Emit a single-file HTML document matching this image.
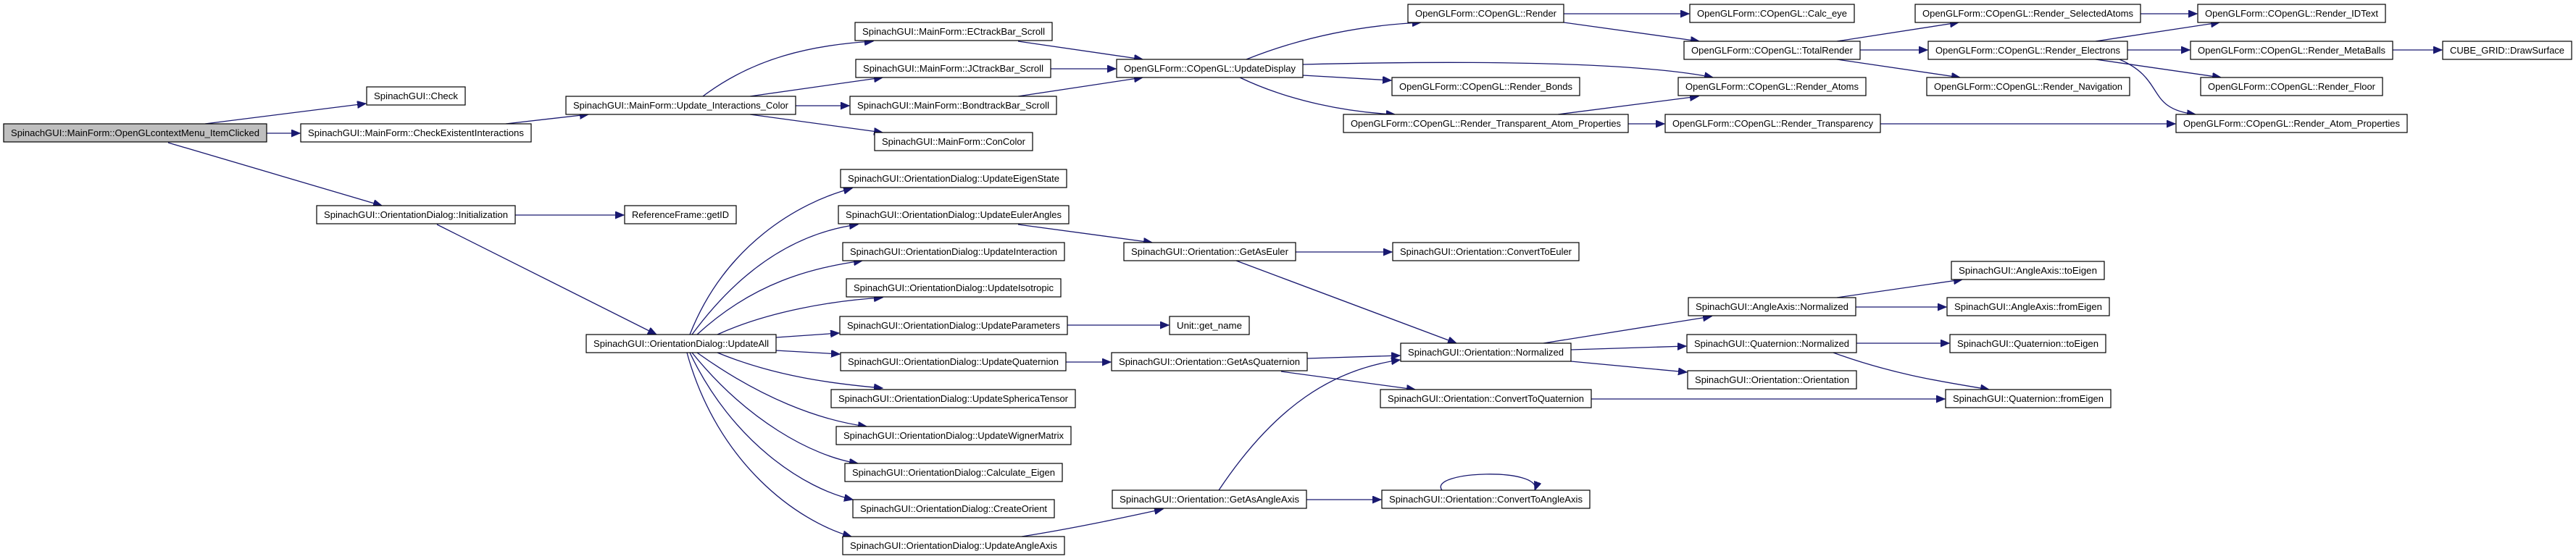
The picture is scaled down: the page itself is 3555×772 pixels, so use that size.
<!DOCTYPE html>
<html><head><meta charset="utf-8"><style>
html,body{margin:0;padding:0;background:#fff;}
svg{display:block;}
text{font-family:"Liberation Sans",sans-serif;font-size:12.5px;fill:#000;}
rect{fill:#fff;stroke:#000;stroke-width:1.2;}
path{fill:none;stroke:#191970;stroke-width:1.3;}
</style></head><body>
<svg width="3555" height="772" viewBox="0 0 3555 772" xmlns="http://www.w3.org/2000/svg">
<defs><marker id="a" markerUnits="userSpaceOnUse" markerWidth="14" markerHeight="12" refX="12" refY="5" orient="auto"><path d="M0,0 L12,5 L0,10 z" style="fill:#191970;stroke:#191970;stroke-width:1"/></marker></defs>
<g marker-end="url(#a)">
<path d="M283,171 L505,143"/>
<path d="M368,184 L414,184"/>
<path d="M232,197 L527,284"/>
<path d="M698,171 L812,158"/>
<path d="M970,133 C1040,80 1120,62 1205,57"/>
<path d="M1035,133 L1218,107"/>
<path d="M1098,146 L1172,146"/>
<path d="M1035,158 L1218,183"/>
<path d="M711,297 L861,297"/>
<path d="M603,310 L906,462"/>
<path d="M952,462 C1000,340 1100,280 1176,260"/>
<path d="M955,462 C1030,360 1110,320 1184,310"/>
<path d="M962,462 C1040,390 1120,370 1190,360"/>
<path d="M990,462 C1060,430 1150,415 1218,411"/>
<path d="M1071,466 L1158,460"/>
<path d="M1071,484 L1159,489"/>
<path d="M990,487 C1070,520 1150,530 1218,536"/>
<path d="M962,487 C1050,550 1130,580 1196,589"/>
<path d="M955,487 C1030,580 1120,630 1184,640"/>
<path d="M952,487 C1010,610 1110,675 1177,690"/>
<path d="M948,487 C990,640 1100,720 1175,741"/>
<path d="M1405,57 L1577,82"/>
<path d="M1450,95 L1540,95"/>
<path d="M1405,133 L1577,107"/>
<path d="M1720,82 C1800,50 1880,35 1961,31"/>
<path d="M1798,89 C2000,84 2250,84 2364,107"/>
<path d="M1798,104 L1920,111"/>
<path d="M1711,107 C1780,140 1860,155 1925,158"/>
<path d="M2150,158 L2344,133"/>
<path d="M2247,171 L2297,171"/>
<path d="M2595,171 L3002,171"/>
<path d="M2158,19 L2331,19"/>
<path d="M2158,31 L2345,57"/>
<path d="M2535,57 L2703,31"/>
<path d="M2567,69 L2660,69"/>
<path d="M2535,82 L2705,107"/>
<path d="M2892,57 L3063,31"/>
<path d="M2936,69 L3022,69"/>
<path d="M2892,82 L3065,107"/>
<path d="M2925,82 C2990,110 2960,150 3030,158"/>
<path d="M2954,19 L3032,19"/>
<path d="M3302,69 L3370,69"/>
<path d="M1405,310 L1590,335"/>
<path d="M1788,348 L1921,348"/>
<path d="M1706,360 L2010,474"/>
<path d="M1473,449 L1613,449"/>
<path d="M1471,500 L1533,500"/>
<path d="M1804,495 L1932,491"/>
<path d="M1768,513 L1953,538"/>
<path d="M1682,677 C1760,560 1840,510 1932,497"/>
<path d="M1410,741 C1480,730 1550,715 1605,703"/>
<path d="M1803,690 L1906,690"/>
<path d="M1990,677 C1970,650 2130,645 2118,677"/>
<path d="M2130,474 L2362,437"/>
<path d="M2168,483 L2327,478"/>
<path d="M2168,499 L2328,514"/>
<path d="M2196,551 L2684,551"/>
<path d="M2535,411 L2708,386"/>
<path d="M2561,424 L2686,424"/>
<path d="M2562,474 L2690,474"/>
<path d="M2530,487 C2620,520 2700,530 2745,538"/>
</g>
<g>
<rect x="5" y="171" width="363" height="25" style="fill:#bfbfbf"/><text x="15" y="188" textLength="343" lengthAdjust="spacingAndGlyphs">SpinachGUI::MainForm::OpenGLcontextMenu_ItemClicked</text>
<rect x="506" y="120" width="136" height="25"/><text x="516" y="137" textLength="116" lengthAdjust="spacingAndGlyphs">SpinachGUI::Check</text>
<rect x="415" y="171" width="318" height="25"/><text x="425" y="188" textLength="298" lengthAdjust="spacingAndGlyphs">SpinachGUI::MainForm::CheckExistentInteractions</text>
<rect x="781" y="133" width="317" height="25"/><text x="791" y="150" textLength="297" lengthAdjust="spacingAndGlyphs">SpinachGUI::MainForm::Update_Interactions_Color</text>
<rect x="437" y="284" width="274" height="25"/><text x="447" y="301" textLength="254" lengthAdjust="spacingAndGlyphs">SpinachGUI::OrientationDialog::Initialization</text>
<rect x="862" y="284" width="154" height="25"/><text x="872" y="301" textLength="134" lengthAdjust="spacingAndGlyphs">ReferenceFrame::getID</text>
<rect x="809" y="462" width="262" height="25"/><text x="819" y="479" textLength="242" lengthAdjust="spacingAndGlyphs">SpinachGUI::OrientationDialog::UpdateAll</text>
<rect x="1180" y="31" width="272" height="25"/><text x="1190" y="48" textLength="252" lengthAdjust="spacingAndGlyphs">SpinachGUI::MainForm::ECtrackBar_Scroll</text>
<rect x="1181" y="82" width="269" height="25"/><text x="1191" y="99" textLength="249" lengthAdjust="spacingAndGlyphs">SpinachGUI::MainForm::JCtrackBar_Scroll</text>
<rect x="1173" y="133" width="285" height="25"/><text x="1183" y="150" textLength="265" lengthAdjust="spacingAndGlyphs">SpinachGUI::MainForm::BondtrackBar_Scroll</text>
<rect x="1207" y="183" width="218" height="25"/><text x="1217" y="200" textLength="198" lengthAdjust="spacingAndGlyphs">SpinachGUI::MainForm::ConColor</text>
<rect x="1541" y="82" width="257" height="25"/><text x="1551" y="99" textLength="237" lengthAdjust="spacingAndGlyphs">OpenGLForm::COpenGL::UpdateDisplay</text>
<rect x="1943" y="6" width="215" height="25"/><text x="1953" y="23" textLength="195" lengthAdjust="spacingAndGlyphs">OpenGLForm::COpenGL::Render</text>
<rect x="1921" y="107" width="259" height="25"/><text x="1931" y="124" textLength="239" lengthAdjust="spacingAndGlyphs">OpenGLForm::COpenGL::Render_Bonds</text>
<rect x="1854" y="158" width="393" height="25"/><text x="1864" y="175" textLength="373" lengthAdjust="spacingAndGlyphs">OpenGLForm::COpenGL::Render_Transparent_Atom_Properties</text>
<rect x="1160" y="234" width="312" height="25"/><text x="1170" y="251" textLength="292" lengthAdjust="spacingAndGlyphs">SpinachGUI::OrientationDialog::UpdateEigenState</text>
<rect x="1157" y="284" width="318" height="25"/><text x="1167" y="301" textLength="298" lengthAdjust="spacingAndGlyphs">SpinachGUI::OrientationDialog::UpdateEulerAngles</text>
<rect x="1163" y="335" width="306" height="25"/><text x="1173" y="352" textLength="286" lengthAdjust="spacingAndGlyphs">SpinachGUI::OrientationDialog::UpdateInteraction</text>
<rect x="1551" y="335" width="237" height="25"/><text x="1561" y="352" textLength="217" lengthAdjust="spacingAndGlyphs">SpinachGUI::Orientation::GetAsEuler</text>
<rect x="1922" y="335" width="257" height="25"/><text x="1932" y="352" textLength="237" lengthAdjust="spacingAndGlyphs">SpinachGUI::Orientation::ConvertToEuler</text>
<rect x="1168" y="385" width="296" height="25"/><text x="1178" y="402" textLength="276" lengthAdjust="spacingAndGlyphs">SpinachGUI::OrientationDialog::UpdateIsotropic</text>
<rect x="1159" y="437" width="314" height="25"/><text x="1169" y="454" textLength="294" lengthAdjust="spacingAndGlyphs">SpinachGUI::OrientationDialog::UpdateParameters</text>
<rect x="1614" y="437" width="110" height="25"/><text x="1624" y="454" textLength="90" lengthAdjust="spacingAndGlyphs">Unit::get_name</text>
<rect x="1160" y="487" width="311" height="25"/><text x="1170" y="504" textLength="291" lengthAdjust="spacingAndGlyphs">SpinachGUI::OrientationDialog::UpdateQuaternion</text>
<rect x="1534" y="487" width="270" height="25"/><text x="1544" y="504" textLength="250" lengthAdjust="spacingAndGlyphs">SpinachGUI::Orientation::GetAsQuaternion</text>
<rect x="1933" y="474" width="235" height="25"/><text x="1943" y="491" textLength="215" lengthAdjust="spacingAndGlyphs">SpinachGUI::Orientation::Normalized</text>
<rect x="1905" y="538" width="291" height="25"/><text x="1915" y="555" textLength="271" lengthAdjust="spacingAndGlyphs">SpinachGUI::Orientation::ConvertToQuaternion</text>
<rect x="1147" y="538" width="337" height="25"/><text x="1157" y="555" textLength="317" lengthAdjust="spacingAndGlyphs">SpinachGUI::OrientationDialog::UpdateSphericaTensor</text>
<rect x="1154" y="589" width="324" height="25"/><text x="1164" y="606" textLength="304" lengthAdjust="spacingAndGlyphs">SpinachGUI::OrientationDialog::UpdateWignerMatrix</text>
<rect x="1166" y="640" width="300" height="25"/><text x="1176" y="657" textLength="280" lengthAdjust="spacingAndGlyphs">SpinachGUI::OrientationDialog::Calculate_Eigen</text>
<rect x="1177" y="690" width="278" height="25"/><text x="1187" y="707" textLength="258" lengthAdjust="spacingAndGlyphs">SpinachGUI::OrientationDialog::CreateOrient</text>
<rect x="1163" y="741" width="306" height="25"/><text x="1173" y="758" textLength="286" lengthAdjust="spacingAndGlyphs">SpinachGUI::OrientationDialog::UpdateAngleAxis</text>
<rect x="1535" y="677" width="268" height="25"/><text x="1545" y="694" textLength="248" lengthAdjust="spacingAndGlyphs">SpinachGUI::Orientation::GetAsAngleAxis</text>
<rect x="1907" y="677" width="287" height="25"/><text x="1917" y="694" textLength="267" lengthAdjust="spacingAndGlyphs">SpinachGUI::Orientation::ConvertToAngleAxis</text>
<rect x="2332" y="6" width="227" height="25"/><text x="2342" y="23" textLength="207" lengthAdjust="spacingAndGlyphs">OpenGLForm::COpenGL::Calc_eye</text>
<rect x="2324" y="57" width="243" height="25"/><text x="2334" y="74" textLength="223" lengthAdjust="spacingAndGlyphs">OpenGLForm::COpenGL::TotalRender</text>
<rect x="2316" y="107" width="259" height="25"/><text x="2326" y="124" textLength="239" lengthAdjust="spacingAndGlyphs">OpenGLForm::COpenGL::Render_Atoms</text>
<rect x="2298" y="158" width="297" height="25"/><text x="2308" y="175" textLength="277" lengthAdjust="spacingAndGlyphs">OpenGLForm::COpenGL::Render_Transparency</text>
<rect x="2643" y="6" width="311" height="25"/><text x="2653" y="23" textLength="291" lengthAdjust="spacingAndGlyphs">OpenGLForm::COpenGL::Render_SelectedAtoms</text>
<rect x="2661" y="57" width="275" height="25"/><text x="2671" y="74" textLength="255" lengthAdjust="spacingAndGlyphs">OpenGLForm::COpenGL::Render_Electrons</text>
<rect x="2659" y="107" width="280" height="25"/><text x="2669" y="124" textLength="260" lengthAdjust="spacingAndGlyphs">OpenGLForm::COpenGL::Render_Navigation</text>
<rect x="3033" y="6" width="259" height="25"/><text x="3043" y="23" textLength="239" lengthAdjust="spacingAndGlyphs">OpenGLForm::COpenGL::Render_IDText</text>
<rect x="3023" y="57" width="279" height="25"/><text x="3033" y="74" textLength="259" lengthAdjust="spacingAndGlyphs">OpenGLForm::COpenGL::Render_MetaBalls</text>
<rect x="3037" y="107" width="251" height="25"/><text x="3047" y="124" textLength="231" lengthAdjust="spacingAndGlyphs">OpenGLForm::COpenGL::Render_Floor</text>
<rect x="3003" y="158" width="319" height="25"/><text x="3013" y="175" textLength="299" lengthAdjust="spacingAndGlyphs">OpenGLForm::COpenGL::Render_Atom_Properties</text>
<rect x="3371" y="57" width="178" height="25"/><text x="3381" y="74" textLength="158" lengthAdjust="spacingAndGlyphs">CUBE_GRID::DrawSurface</text>
<rect x="2693" y="361" width="211" height="25"/><text x="2703" y="378" textLength="191" lengthAdjust="spacingAndGlyphs">SpinachGUI::AngleAxis::toEigen</text>
<rect x="2330" y="411" width="231" height="25"/><text x="2340" y="428" textLength="211" lengthAdjust="spacingAndGlyphs">SpinachGUI::AngleAxis::Normalized</text>
<rect x="2687" y="411" width="224" height="25"/><text x="2697" y="428" textLength="204" lengthAdjust="spacingAndGlyphs">SpinachGUI::AngleAxis::fromEigen</text>
<rect x="2328" y="462" width="234" height="25"/><text x="2338" y="479" textLength="214" lengthAdjust="spacingAndGlyphs">SpinachGUI::Quaternion::Normalized</text>
<rect x="2691" y="462" width="215" height="25"/><text x="2701" y="479" textLength="195" lengthAdjust="spacingAndGlyphs">SpinachGUI::Quaternion::toEigen</text>
<rect x="2329" y="512" width="233" height="25"/><text x="2339" y="529" textLength="213" lengthAdjust="spacingAndGlyphs">SpinachGUI::Orientation::Orientation</text>
<rect x="2685" y="538" width="228" height="25"/><text x="2695" y="555" textLength="208" lengthAdjust="spacingAndGlyphs">SpinachGUI::Quaternion::fromEigen</text>
</g>
</svg>
</body></html>
